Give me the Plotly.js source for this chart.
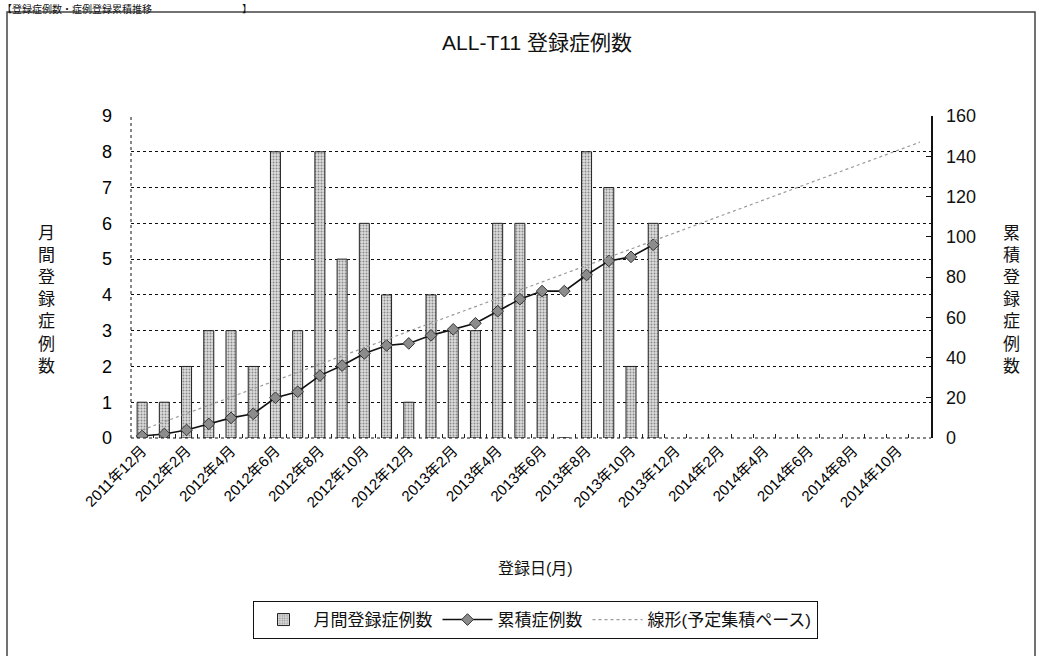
<!DOCTYPE html>
<html>
<head>
<meta charset="utf-8">
<script src="https://cdn.plot.ly/plotly-3.0.1.min.js"></script>
<style>html,body{margin:0;padding:0;background:#fff;}#chart{width:1039px;height:656px;}</style>
</head>
<body>
<div id="chart"></div>
<script>
const months = ['2011年12月','2012年1月','2012年2月','2012年3月','2012年4月','2012年5月','2012年6月','2012年7月','2012年8月','2012年9月','2012年10月','2012年11月',
  '2012年12月','2013年1月','2013年2月','2013年3月','2013年4月','2013年5月','2013年6月','2013年7月','2013年8月','2013年9月','2013年10月','2013年11月',
  '2013年12月','2014年1月','2014年2月','2014年3月','2014年4月','2014年5月','2014年6月','2014年7月','2014年8月','2014年9月','2014年10月','2014年11月'];
const monthly = [1,1,2,3,3,2,8,3,8,5,6,4,1,4,3,3,6,6,4,0,8,7,2,6];
const cumulative = [1,2,4,7,10,12,20,23,31,36,42,46,47,51,54,57,63,69,73,73,81,88,90,96];
const trendMonths = ['2011年12月','2014年11月'];
const trendValues = [4,147];
const chartTitle = 'ALL-T11 登録症例数';
const xTitle = '登録日(月)';
const yTitleLeft = '月間登録症例数';
const yTitleRight = '累積登録症例数';
const seriesNames = ['月間登録症例数','累積症例数','線形(予定集積ペース)'];
const headerText = '【登録症例数・症例登録累積推移　　　　　　　　　】';

const FONT = 'Liberation Sans, Noto Sans CJK JP, sans-serif';
const usedMonths = months.slice(0, monthly.length);

const traces = [
  {type:'bar', x: usedMonths, y: monthly, name: seriesNames[0], yaxis:'y',
   marker:{color:'#d4d4d4', line:{color:'#222', width:1},
     pattern:{shape:'.', fgcolor:'#8a8a8a', bgcolor:'#dedede', size:3, solidity:0.35}}},
  {type:'scatter', mode:'lines+markers', x: usedMonths, y: cumulative, name: seriesNames[1], yaxis:'y2',
   line:{color:'#111', width:1.6},
   marker:{symbol:'diamond', size:9, color:'#8c8c8c', line:{color:'#333', width:1}}},
  {type:'scatter', mode:'lines', x: trendMonths, y: trendValues, name: seriesNames[2], yaxis:'y2',
   line:{color:'#9a9a9a', width:1.2, dash:'dot'}}
];

const L = 131, R = 931, T = 116, B = 438;
const W = R - L, H = B - T;
const px = v => (v - L) / W;
const py = v => (B - v) / H;

const layout = {
  width:1039, height:656,
  margin:{l:L, r:1039-R, t:T, b:656-B, pad:0},
  paper_bgcolor:'#fff', plot_bgcolor:'#fff',
  font:{family:FONT, color:'#111', size:15},
  showlegend:true,
  bargap:0.55,
  title:{text:chartTitle, font:{size:21, family:FONT, color:'#111'}, xref:'container', yref:'container', x:537/1039, y:1-43/656, xanchor:'center', yanchor:'middle'},
  xaxis:{type:'category', categoryorder:'array', categoryarray:months, range:[-0.5, months.length-0.5],
    tickvals:months, ticktext:months.map((m,i)=> i%2===0 ? m : ''),
    tickangle:-45, tickson:'boundaries', ticks:'inside', ticklen:4, tickcolor:'#222',
    tickfont:{size:15, family:FONT, color:'#000'},
    showgrid:false, showline:false, zeroline:false, fixedrange:true},
  yaxis:{range:[0,9], dtick:1, tick0:0, showgrid:true, gridcolor:'#111', gridwidth:1, griddash:'dot',
    zeroline:false, showline:false, ticks:'', ticklabelstandoff:18,
    tickfont:{size:18, family:FONT, color:'#000'}, fixedrange:true},
  yaxis2:{range:[0,160], dtick:20, tick0:0, overlaying:'y', side:'right', showgrid:false, zeroline:false,
    showline:true, linecolor:'#111', linewidth:1.5, ticks:'inside', ticklen:5, tickcolor:'#111',
    ticklabelstandoff:10, tickfont:{size:18, family:FONT, color:'#111'}, fixedrange:true},
  legend:{orientation:'h', x:px(535), xanchor:'center', y:py(601), yanchor:'top',
    bordercolor:'#111', borderwidth:1, bgcolor:'#fff', font:{size:17, family:FONT, color:'#111'},
    traceorder:'normal', itemwidth:50},
  annotations:[
    {text:yTitleLeft.split('').join('<br>'), xref:'paper', yref:'paper', x:px(46), y:py(300), xanchor:'center', yanchor:'middle', showarrow:false, font:{size:17, family:FONT, color:'#111'}},
    {text:yTitleRight.split('').join('<br>'), xref:'paper', yref:'paper', x:px(1011), y:py(300), xanchor:'center', yanchor:'middle', showarrow:false, font:{size:17, family:FONT, color:'#111'}},
    {text:xTitle, xref:'paper', yref:'paper', x:px(535), y:py(568), xanchor:'center', yanchor:'middle', showarrow:false, font:{size:16, family:FONT, color:'#111'}},
    {text:headerText, xref:'paper', yref:'paper', x:px(0), y:py(1), xanchor:'left', yanchor:'top', showarrow:false, font:{size:10, family:FONT, color:'#111'}}
  ],
  shapes:[
    {type:'rect', xref:'paper', yref:'paper', x0:px(7), x1:px(1035), y0:py(680), y1:py(12), line:{color:'#444', width:1.5}, layer:'below'},
    {type:'line', xref:'paper', yref:'paper', x0:0, x1:0, y0:0, y1:1, line:{color:'#111', width:1, dash:'dot'}},
    {type:'line', xref:'paper', yref:'paper', x0:0, x1:1, y0:0, y1:0, line:{color:'#111', width:1, dash:'dot'}}
  ]
};

Plotly.newPlot('chart', traces, layout, {staticPlot:true, displayModeBar:false});
</script>
</body>
</html>
